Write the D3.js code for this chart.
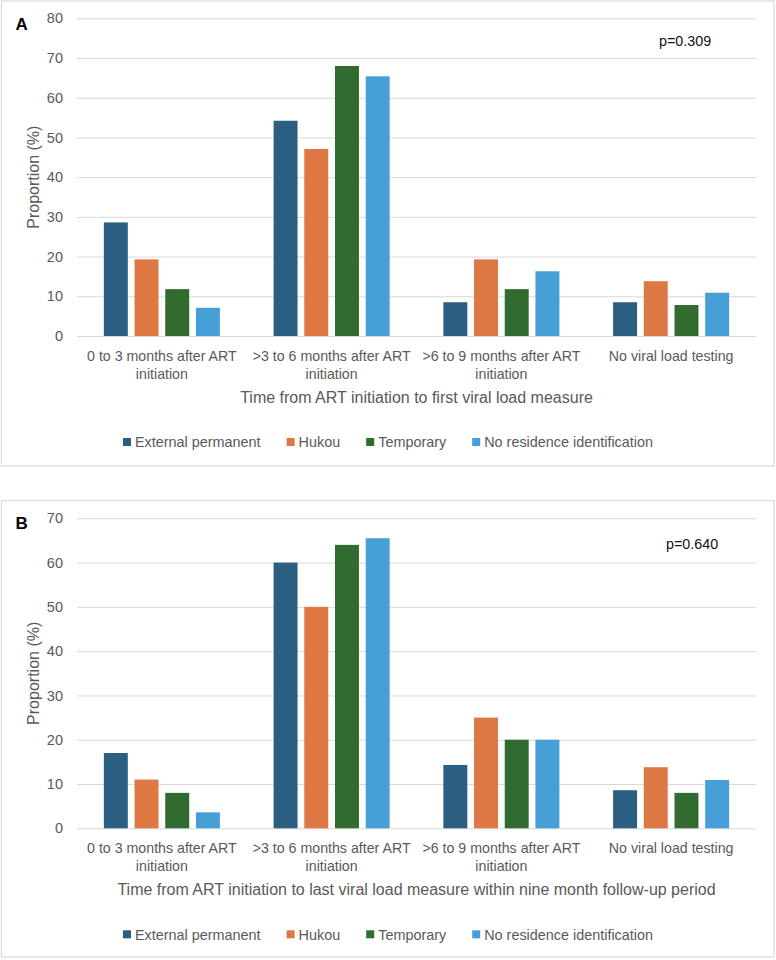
<!DOCTYPE html>
<html>
<head>
<meta charset="utf-8">
<script src="https://cdn.jsdelivr.net/npm/d3@7"></script>
<style>
  body { margin: 0; background: #fff; }
  text { font-family: "Liberation Sans", Arial, sans-serif; }
</style>
</head>
<body>
<script>
// Data
var categoryLines = [
  ["0 to 3 months after ART", "initiation"],
  [">3 to 6 months after ART", "initiation"],
  [">6 to 9 months after ART", "initiation"],
  ["No viral load testing"]
];
var seriesNames = ["External permanent", "Hukou", "Temporary", "No residence identification"];
var seriesColors = ["#2B5F82", "#DD7744", "#316B2F", "#469FD6"];

// panel A: first viral load measure
var externalA = [28.6, 54.2, 8.5, 8.5];
var hukouA = [19.3, 47.1, 19.3, 13.8];
var temporaryA = [11.8, 68.0, 11.8, 7.8];
var noResidenceA = [7.1, 65.4, 16.3, 10.9];
var ticksA = [0, 10, 20, 30, 40, 50, 60, 70, 80];

// panel B: last viral load measure
var externalB = [17.0, 60.0, 14.3, 8.6];
var hukouB = [11.0, 50.0, 25.0, 13.8];
var temporaryB = [8.0, 64.0, 20.0, 8.0];
var noResidenceB = [3.6, 65.5, 20.0, 10.9];
var ticksB = [0, 10, 20, 30, 40, 50, 60, 70];

var panels = [
  { letter: "A", pText: "p=0.309", top: 1, bottom: 466, plotTop: 18.3, plotBottom: 336, max: 80, ticks: ticksA,
    series: [externalA, hukouA, temporaryA, noResidenceA],
    title: "Time from ART initiation to first viral load measure" },
  { letter: "B", pText: "p=0.640", top: 500.5, bottom: 957, plotTop: 518.3, plotBottom: 828.3, max: 70, ticks: ticksB,
    series: [externalB, hukouB, temporaryB, noResidenceB],
    title: "Time from ART initiation to last viral load measure within nine month follow-up period" }
];

var svgWidth = 776;
var svgHeight = 960;
var plotLeft = 77;
var plotRight = 756;
var textColor = "#595959";

var svg = d3.select("body")
  .append("svg")
  .attr("width", svgWidth)
  .attr("height", svgHeight);

var x0 = d3.scaleBand()
  .domain(d3.range(categoryLines.length))
  .range([plotLeft, plotRight])
  .padding(0);

var x1 = d3.scaleBand()
  .domain(d3.range(seriesNames.length))
  .range([0, x0.bandwidth()])
  .paddingInner(0.22)
  .paddingOuter(0.875);

panels.forEach(function(p) {
  var g = svg.append("g");

  // chart frame
  g.append("rect")
    .attr("x", 1.5)
    .attr("y", p.top)
    .attr("width", 772.5)
    .attr("height", p.bottom - p.top)
    .attr("fill", "#fff")
    .attr("stroke", "#d9d9d9")
    .attr("stroke-width", 1.2);

  var y = d3.scaleLinear()
    .domain([0, p.max])
    .range([p.plotBottom, p.plotTop]);

  // gridlines
  g.append("g")
    .attr("transform", "translate(" + plotLeft + ",0)")
    .call(d3.axisLeft(y).tickValues(p.ticks).tickSize(-(plotRight - plotLeft)).tickFormat(""))
    .call(function(s) {
      s.select(".domain").remove();
      s.selectAll("line").attr("stroke", "#d9d9d9").attr("stroke-width", 1);
    });

  // y tick labels
  g.append("g")
    .attr("transform", "translate(" + 63 + ",0)")
    .call(d3.axisLeft(y).tickValues(p.ticks).tickSize(0).tickPadding(0))
    .call(function(s) {
      s.select(".domain").remove();
      s.selectAll("text")
        .attr("fill", textColor)
        .style("font-size", "14.5px")
        .style("font-family", "'Liberation Sans', Arial, sans-serif");
    });

  // bars
  var rows = categoryLines.map(function(c, i) {
    return p.series.map(function(s, j) { return { cat: i, ser: j, value: s[i] }; });
  });

  g.append("g")
    .selectAll("g")
    .data(rows)
    .join("g")
    .attr("transform", function(d, i) { return "translate(" + x0(i) + ",0)"; })
    .selectAll("rect")
    .data(function(d) { return d; })
    .join("rect")
    .attr("x", function(d) { return x1(d.ser); })
    .attr("y", function(d) { return y(d.value); })
    .attr("width", x1.bandwidth())
    .attr("height", function(d) { return y(0) - y(d.value); })
    .attr("fill", function(d) { return seriesColors[d.ser]; });

  // category labels
  var catAxis = g.append("g")
    .attr("transform", "translate(0," + p.plotBottom + ")")
    .call(d3.axisBottom(x0).tickSize(0).tickFormat(""));
  catAxis.select(".domain").remove();
  catAxis.selectAll(".tick").each(function(d) {
    var t = d3.select(this).append("text")
      .attr("fill", textColor)
      .attr("text-anchor", "middle")
      .style("font-size", "14.2px");
    categoryLines[d].forEach(function(line, k) {
      t.append("tspan")
        .attr("x", 0)
        .attr("y", 24.5 + k * 18.3)
        .text(line);
    });
  });

  // axis titles
  g.append("text")
    .attr("x", (plotLeft + plotRight) / 2)
    .attr("y", p.plotBottom + 67)
    .attr("text-anchor", "middle")
    .attr("fill", textColor)
    .style("font-size", "16px")
    .text(p.title);

  g.append("text")
    .attr("transform", "translate(39," + ((p.plotTop + p.plotBottom) / 2) + ") rotate(-90)")
    .attr("text-anchor", "middle")
    .attr("fill", textColor)
    .style("font-size", "16px")
    .text("Proportion (%)");

  // panel letter and p-value
  g.append("text")
    .attr("x", 15.5)
    .attr("y", p.top + 28.5)
    .attr("fill", "#000")
    .style("font-size", "17px")
    .style("font-weight", "bold")
    .text(p.letter);

  g.append("text")
    .attr("x", p.letter === "A" ? 659 : 666)
    .attr("y", p.letter === "A" ? 46 : 549)
    .attr("fill", "#111")
    .style("font-size", "14.3px")
    .text(p.pText);

  // legend, centred on the chart area
  var legend = g.append("g")
    .attr("transform", "translate(0," + (p.plotBottom + 106) + ")");
  var items = legend.selectAll("g")
    .data(seriesNames)
    .join("g");
  items.append("rect")
    .attr("x", 0)
    .attr("y", -4)
    .attr("width", 8)
    .attr("height", 8)
    .attr("fill", function(d, i) { return seriesColors[i]; });
  items.append("text")
    .attr("x", 12)
    .attr("y", 5.2)
    .attr("fill", textColor)
    .style("font-size", "14.4px")
    .text(function(d) { return d; });

  var widths = [];
  items.each(function() { widths.push(12 + d3.select(this).select("text").node().getComputedTextLength()); });
  var gap = 26;
  var total = d3.sum(widths) + gap * (widths.length - 1);
  var cx = 388 - total / 2;
  items.attr("transform", function(d, i) {
    var pos = cx;
    cx += widths[i] + gap;
    return "translate(" + pos + ",0)";
  });
});
</script>
</body>
</html>
